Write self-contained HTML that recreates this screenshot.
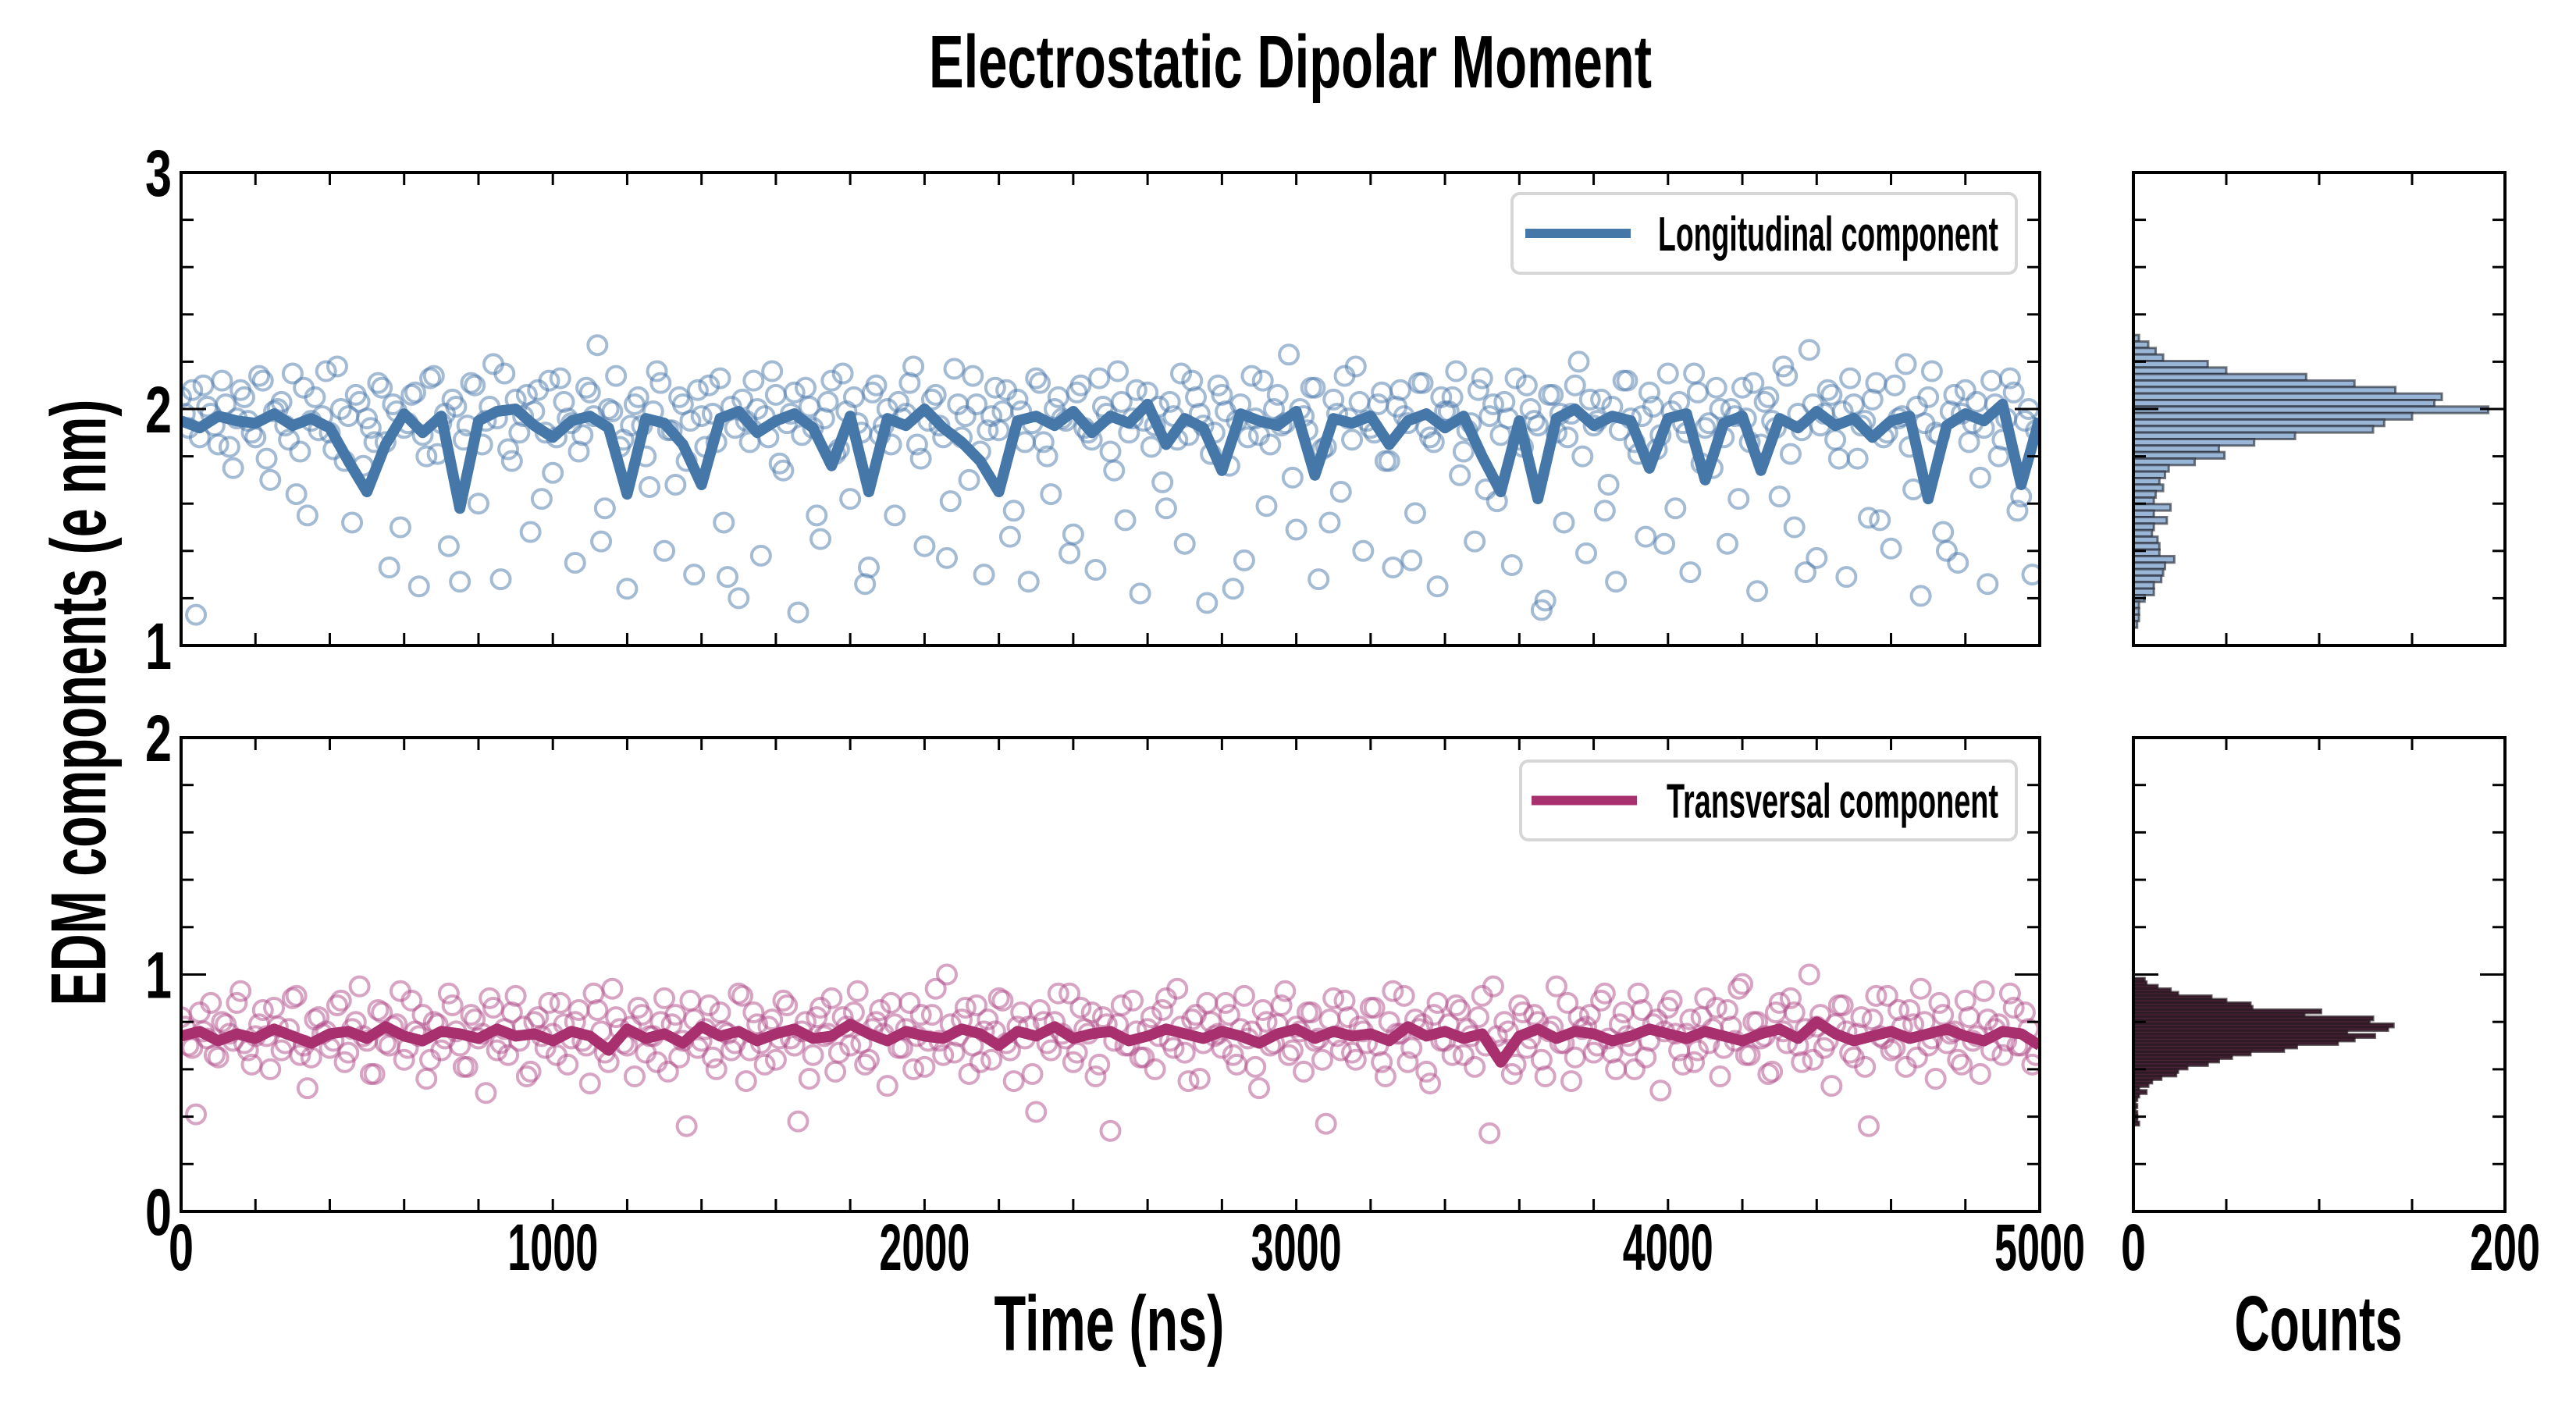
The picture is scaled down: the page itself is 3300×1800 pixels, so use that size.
<!DOCTYPE html>
<html><head><meta charset="utf-8"><style>
html,body{margin:0;padding:0;background:#fff;}
svg{display:block;}
text{font-family:"Liberation Sans Narrow","Liberation Sans",sans-serif;font-weight:bold;fill:#000;}
</style></head><body>
<svg id="chart" width="3300" height="1800" viewBox="0 0 3300 1800" xmlns="http://www.w3.org/2000/svg">
<defs>
<clipPath id="clipTop"><rect x="232" y="221" width="2381" height="606"/></clipPath>
<clipPath id="clipBot"><rect x="232" y="945" width="2381" height="607"/></clipPath>
</defs>
<text x="1653" y="112" text-anchor="middle" font-size="96" textLength="926" lengthAdjust="spacingAndGlyphs">Electrostatic Dipolar Moment</text>
<text transform="translate(135,900) rotate(-90)" text-anchor="middle" font-size="100" textLength="777" lengthAdjust="spacingAndGlyphs">EDM components (e nm)</text>
<text x="1421" y="1730" text-anchor="middle" font-size="100" textLength="295" lengthAdjust="spacingAndGlyphs">Time (ns)</text>
<text x="2970" y="1730" text-anchor="middle" font-size="100" textLength="215" lengthAdjust="spacingAndGlyphs">Counts</text>
<g id="layer"></g>
</svg>
<script>
// ---- data ----
const lineTimes = [];
const longLine = [1.95,1.92,1.97,1.95,1.94,1.98,1.93,1.96,1.92,1.78,1.65,1.85,1.98,1.90,1.97,1.58,1.95,1.99,2.00,1.93,1.88,1.95,1.97,1.92,1.64,1.96,1.94,1.85,1.68,1.96,1.99,1.90,1.95,1.98,1.92,1.76,1.97,1.65,1.96,1.93,2.00,1.92,1.86,1.78,1.65,1.95,1.97,1.93,1.99,1.90,1.97,1.94,2.02,1.85,1.96,1.92,1.74,1.98,1.95,1.93,1.99,1.72,1.96,1.94,1.97,1.85,1.95,1.98,1.92,1.97,1.80,1.65,1.95,1.62,1.96,2.00,1.93,1.97,1.95,1.75,1.96,1.98,1.70,1.94,1.97,1.74,1.96,1.92,1.99,1.93,1.96,1.88,1.95,1.97,1.62,1.93,1.98,1.95,2.02,1.68,1.96];
const transLine = [0.74,0.76,0.72,0.75,0.73,0.77,0.74,0.71,0.75,0.76,0.73,0.78,0.74,0.72,0.76,0.75,0.73,0.77,0.74,0.75,0.72,0.76,0.74,0.68,0.77,0.73,0.75,0.71,0.78,0.74,0.76,0.72,0.75,0.77,0.73,0.74,0.79,0.75,0.72,0.76,0.74,0.73,0.77,0.75,0.70,0.76,0.74,0.78,0.73,0.75,0.76,0.72,0.74,0.77,0.75,0.73,0.76,0.74,0.71,0.75,0.77,0.73,0.76,0.74,0.75,0.72,0.78,0.74,0.76,0.73,0.75,0.63,0.74,0.77,0.73,0.76,0.75,0.72,0.74,0.77,0.75,0.73,0.76,0.74,0.72,0.75,0.77,0.73,0.80,0.75,0.72,0.74,0.76,0.73,0.75,0.77,0.74,0.72,0.76,0.75,0.70];
for (let i = 0; i < longLine.length; i++) lineTimes.push(i * 50);
const longScatter = [2.05,1.92,1.13,2.10,1.98,1.85,2.02,1.75,2.08,1.95,1.88,2.12,1.70,2.00,1.93,2.15,1.82,1.55,2.05,1.97,1.90,2.18,1.78,1.52,2.03,1.96,1.86,2.09,1.33,1.99,1.92,2.06,1.25,1.80,2.14,1.94,1.42,2.01,1.87,2.11,1.60,1.95,2.19,1.28,1.83,2.04,1.97,1.48,2.08,1.90,1.73,2.13,1.96,1.35,1.89,2.07,2.27,1.58,1.99,1.84,1.24,2.02,1.93,1.67,2.16,1.40,1.91,2.05,1.78,1.30,1.97,2.10,1.86,1.52,2.01,1.20,1.95,2.12,1.38,1.88,2.06,1.74,1.98,1.14,2.09,1.92,1.45,2.03,1.81,2.15,1.62,1.94,1.26,2.07,1.89,2.00,1.55,1.96,2.11,1.85,1.42,2.04,1.93,1.37,2.17,1.88,1.70,2.02,1.30,1.97,1.91,2.08,1.57,1.99,1.27,2.13,1.86,1.64,2.05,1.95,1.47,2.10,1.90,1.32,2.01,1.82,2.16,1.53,1.96,1.22,2.07,1.93,1.69,2.03,1.87,1.43,2.12,1.98,1.18,1.90,2.06,1.76,1.95,1.36,2.14,1.89,1.59,2.00,1.93,2.23,1.49,1.97,2.09,1.28,1.84,2.04,1.65,1.96,2.18,1.40,1.92,2.02,1.78,1.33,2.08,1.94,1.56,2.11,1.88,1.25,1.99,2.05,1.72,1.91,1.44,2.13,1.97,1.61,2.03,1.34,1.87,2.10,1.95,1.15,2.06,1.90,1.52,1.98,2.20,1.39,1.93,2.04,1.68,1.27,2.12,1.96,1.81,1.46,2.01,1.89,2.15,1.58,1.94,1.31,2.07,1.92,1.75,2.00,1.43,1.97,2.09,1.86,1.23,2.03,1.95,1.63,2.14,1.50,1.91,2.25,1.37,1.98,2.06,1.79,1.29,2.02,1.93,1.54,2.11,1.88,1.41,1.96,2.19,1.66,1.21,2.05,1.90,1.48,1.99,1.35,2.08,1.94,1.71,1.26,2.02,1.87,2.13,1.57,1.95,1.30];
const longScatter2 = [1.98,2.08,1.88,2.01,1.93,2.12,1.84,1.96,2.05,1.90,2.14,1.79,1.99,2.03,1.87,1.64,2.09,1.95,1.91,2.16,1.83,2.00,1.97,2.06,1.76,1.92,2.11,1.86,2.02,1.50,1.94,2.07,1.89,2.13,1.81,1.98,2.04,1.27,1.93,2.10,1.85,2.01,1.96,2.15,1.78,1.90,2.06,1.99,1.62,2.12,1.88,2.03,1.94,1.82,2.09,1.97,1.44,2.00,2.14,1.87,1.93,2.05,1.80,1.99,2.11,1.91,1.68,2.02,1.95,2.08,1.84,1.98,2.13,1.29,1.92,2.04,1.86,2.00,1.97,2.16,1.77,1.94,2.07,1.89,2.01,1.55,1.96,2.12,1.83,1.99,2.05,1.90,1.33,2.10,1.93,1.85,2.03,1.98,2.18,1.79,1.95,2.06,1.88,1.61,2.02,1.97,2.14,1.82,1.91,2.09,1.99,1.46,2.04,1.86,1.94,2.11,1.80,2.00,1.96,1.39,2.07,1.92,1.87,2.13,1.98,1.74,2.03,1.90,2.08,1.95,1.84,2.01,1.58,1.97,2.15,1.89,2.05,1.93,1.81,2.10,1.99,1.24,2.02,1.88,1.96,2.12,1.85,2.06,1.94,1.71,2.00,1.91,2.09,1.83,1.52,1.98,2.14,1.87,2.03,1.95,1.90,2.07,1.78,2.01,1.97,1.36,2.11,1.92,1.86,2.05,1.99,2.16,1.82,1.94,2.08,1.66,2.02,1.89,1.96,2.13,1.84,2.00,1.93,1.19,2.06,1.98,1.88,2.10,1.80,2.04,1.95,1.57,2.01,1.91,2.12,1.86,1.97,2.07,1.83,1.43,1.99,2.03,1.90,2.15,1.77,1.94,2.09,1.88,2.00,1.62,1.96,2.11,1.85,2.05,1.92,2.18,1.81,1.98,1.31,2.02,1.93,2.08,1.87,1.99,2.13,1.79,1.95,2.04,1.53,1.90,2.10,1.97,1.84,2.01,1.94,2.16,1.89,1.40,2.06,1.98,1.86,2.03,1.92,2.12,1.80,1.96,2.07,1.63,2.00,1.91];
const transScatter = [0.82,0.70,0.41,0.76,0.88,0.65,0.79,0.72,0.93,0.68,0.74,0.85,0.60,0.78,0.71,0.90,0.66,0.52,0.81,0.75,0.69,0.87,0.63,0.77,0.95,0.72,0.58,0.84,0.70,0.79,0.64,0.89,0.74,0.56,0.80,0.68,0.92,0.76,0.61,0.83,0.73,0.50,0.86,0.71,0.66,0.91,0.78,0.59,0.82,0.69,0.75,0.88,0.62,0.80,0.72,0.54,0.85,0.67,0.94,0.77,0.70,0.57,0.83,0.74,0.63,0.90,0.79,0.65,0.36,0.81,0.72,0.87,0.60,0.76,0.68,0.92,0.55,0.84,0.71,0.78,0.64,0.89,0.73,0.38,0.80,0.66,0.86,0.75,0.59,0.82,0.70,0.93,0.62,0.77,0.85,0.53,0.79,0.69,0.88,0.74,0.61,0.83,0.72,1.00,0.67,0.81,0.58,0.87,0.76,0.64,0.90,0.71,0.55,0.84,0.78,0.42,0.80,0.68,0.92,0.73,0.63,0.86,0.75,0.57,0.82,0.34,0.79,0.70,0.89,0.65,0.77,0.60,0.85,0.72,0.94,0.67,0.81,0.56,0.88,0.74,0.69,0.83,0.62,0.91,0.76,0.52,0.80,0.71,0.87,0.66,0.78,0.59,0.84,0.73,0.37,0.90,0.68,0.82,0.64,0.76,0.86,0.70,0.57,0.93,0.75,0.63,0.81,0.79,0.54,0.88,0.72,0.66,0.85,0.77,0.61,0.91,0.33,0.74,0.80,0.58,0.87,0.69,0.83,0.64,0.76,0.95,0.71,0.55,0.82,0.78,0.67,0.89,0.73,0.60,0.84,0.70,0.92,0.65,0.79,0.51,0.86,0.75,0.62,0.81,0.68,0.90,0.77,0.57,0.85,0.72,0.96,0.66,0.80,0.74,0.59,0.88,0.71,0.84,0.63,1.00,0.78,0.69,0.53,0.87,0.76,0.65,0.82,0.36,0.91,0.73,0.68,0.85,0.61,0.79,0.94,0.70,0.56,0.83,0.75,0.64,0.89,0.72,0.58,0.81,0.77,0.66,0.92,0.70,0.84,0.62];
const transScatter2 = [0.78,0.69,0.84,0.73,0.66,0.80,0.75,0.88,0.71,0.62,0.79,0.74,0.86,0.68,0.77,0.91,0.70,0.65,0.82,0.76,0.72,0.89,0.67,0.80,0.74,0.58,0.85,0.71,0.78,0.93,0.69,0.76,0.83,0.64,0.79,0.73,0.87,0.70,0.61,0.81,0.75,0.90,0.68,0.77,0.84,0.72,0.57,0.80,0.74,0.88,0.66,0.79,0.73,0.85,0.70,0.92,0.76,0.63,0.82,0.71,0.78,0.86,0.67,0.74,0.80,0.59,0.83,0.72,0.89,0.69,0.77,0.65,0.84,0.75,0.71,0.91,0.68,0.79,0.62,0.81,0.73,0.87,0.70,0.76,0.56,0.82,0.74,0.90,0.67,0.78,0.84,0.71,0.64,0.80,0.75,0.88,0.69,0.77,0.60,0.83,0.72,0.94,0.66,0.79,0.74,0.86,0.70,0.63,0.81,0.76,0.89,0.68,0.78,0.73,0.58,0.85,0.71,0.80,0.75,0.92,0.67,0.77,0.84,0.62,0.79,0.72,0.87,0.70,0.76,0.65,0.82,0.74,0.90,0.69,0.78,0.55,0.83,0.71,0.80,0.75,0.88,0.66,0.77,0.73,0.61,0.85,0.70,0.79,0.93,0.68,0.76,0.84,0.72,0.64,0.81,0.74,0.89,0.67,0.78,0.71,0.86,0.63,0.80,0.75,0.91,0.69,0.77,0.59,0.83,0.72,0.79,0.87,0.66,0.74,0.82,0.70,0.95,0.68,0.76,0.62,0.84,0.73,0.80,0.57,0.78,0.71,0.88,0.65,0.77,0.83,0.70,0.92,0.67,0.79,0.74,0.60,0.85,0.72,0.81,0.76,0.89,0.68,0.75,0.63,0.82,0.71,0.86,0.69,0.78,0.94,0.66,0.80,0.73,0.58,0.84,0.76,0.90,0.70,0.77,0.64,0.83,0.72,0.79,0.87,0.67,0.75,0.61,0.81,0.74,0.91,0.69,0.78,0.85,0.65,0.80,0.73,0.88,0.71,0.76,0.62,0.82,0.74,0.93,0.68,0.79,0.72,0.86,0.70,0.77,0.66];
const scatterTimes = [];
const scatterTimes2 = [];
for (let i = 0; i < longScatter.length; i++) scatterTimes.push(i * 20);
for (let i = 0; i < longScatter2.length; i++) scatterTimes2.push(i * 20 + 10);
// histogram: bins listed from the top edge downward
const longHistTop = 2.313;
const longHistWidth = 0.0275;
const longHistCounts = [3,8,12,16,40,50,93,119,141,166,162,191,150,135,129,87,65,46,49,33,19,17,14,16,12,11,20,11,18,11,10,13,14,14,22,17,16,15,11,11,6,3,3,3,2];
const transHistTop = 0.985;
const transHistWidth = 0.0148;
const transHistCounts = [6,7,13,20,24,42,50,63,64,101,92,129,127,140,137,115,130,119,110,88,81,63,53,46,40,29,24,23,15,10,8,3,7,3,2,1,2,1,2,2,2,3];
const xTickLabels = ["0","1000","2000","3000","4000","5000"];
const topYLabels = ["1","2","3"];
const botYLabels = ["0","1","2"];
const histXLabels = ["0","200"];

// ---- axes ----
const X0=232, X1=2613, TY0=221, TY1=827, BY0=945, BY1=1552, H0=2733, H1=3209;
const xs = t => X0 + t/5000*(X1-X0);
const yTop = v => TY1 - (v-1)/2*(TY1-TY0);
const yBot = v => BY1 - v/2*(BY1-BY0);
const hx = c => H0 + c/200*(H1-H0);
const NS = "http://www.w3.org/2000/svg";
const layer = document.getElementById('layer');
function mk(tag, attrs, parent) {
  const e = document.createElementNS(NS, tag);
  for (const k in attrs) e.setAttribute(k, attrs[k]);
  (parent || layer).appendChild(e);
  return e;
}
function group(name) {
  const g = mk('g', {});
  
  
  return g;
}

function scatter(vals, times, yf, color, clip, name) {
  const g = group(name);
  g.setAttribute('clip-path', 'url(#' + clip + ')');
  for (let i = 0; i < vals.length; i++) {
    const c = mk('circle', {cx: xs(times[i]), cy: yf(vals[i]), r: 12, fill: 'none', stroke: color, 'stroke-width': 4, 'stroke-opacity': 0.5}, g);
    
    
  }
}
function line(vals, yf, color, clip, name) {
  let d = '';
  for (let i = 0; i < vals.length; i++) d += (i ? 'L' : 'M') + xs(lineTimes[i]).toFixed(1) + ' ' + yf(vals[i]).toFixed(1);
  const p = mk('path', {d: d, fill: 'none', stroke: color, 'stroke-width': 14, 'stroke-linejoin': 'round', 'clip-path': 'url(#' + clip + ')'});
  
  
}
function hist(counts, top, w, yf, fill, stroke, name) {
  const g = group(name);
  for (let i = 0; i < counts.length; i++) {
    const yTopEdge = yf(top - i*w), yLow = yf(top - (i+1)*w);
    const r = mk('rect', {x: H0, y: yTopEdge, width: hx(counts[i]) - H0, height: yLow - yTopEdge, fill: fill, stroke: stroke, 'stroke-width': 3}, g);
    
    
  }
}
function frame(x0, y0, x1, y1, name) {
  const r = mk('rect', {x: x0, y: y0, width: x1-x0, height: y1-y0, fill: 'none', stroke: '#000', 'stroke-width': 4});
  
  
}
function ticksX(xList, y0, y1, len, parent) {
  xList.forEach(x => {
    mk('line', {x1: x, x2: x, y1: y1, y2: y1 - len, stroke: '#000', 'stroke-width': 3}, parent);
    mk('line', {x1: x, x2: x, y1: y0, y2: y0 + len, stroke: '#000', 'stroke-width': 3}, parent);
  });
}
function ticksY(yList, x0, x1, lenList, parent) {
  yList.forEach((y, i) => {
    mk('line', {x1: x0, x2: x0 + lenList[i], y1: y, y2: y, stroke: '#000', 'stroke-width': 3}, parent);
    mk('line', {x1: x1, x2: x1 - lenList[i], y1: y, y2: y, stroke: '#000', 'stroke-width': 3}, parent);
  });
}
function label(txt, x, y, anchor, w, name) {
  const t = mk('text', {x: x, y: y, 'text-anchor': anchor, 'font-size': 84, textLength: w, lengthAdjust: 'spacingAndGlyphs'});
  t.textContent = txt;
  
  
}

// series
scatter(longScatter, scatterTimes, yTop, '#4a78aa', 'clipTop', 'longitudinal-scatter');
scatter(longScatter2, scatterTimes2, yTop, '#4a78aa', 'clipTop', 'longitudinal-scatter-2');
line(longLine, yTop, '#4677a9', 'clipTop', 'longitudinal-line');
scatter(transScatter, scatterTimes, yBot, '#b04a88', 'clipBot', 'transversal-scatter');
scatter(transScatter2, scatterTimes2, yBot, '#b04a88', 'clipBot', 'transversal-scatter-2');
line(transLine, yBot, '#a8306f', 'clipBot', 'transversal-line');
hist(longHistCounts, longHistTop, longHistWidth, yTop, '#9ab6d6', 'rgba(40,45,55,0.65)', 'longitudinal-histogram');
hist(transHistCounts, transHistTop, transHistWidth, yBot, '#4a2238', 'rgba(40,25,32,0.75)', 'transversal-histogram');

// ticks
const tg = group('axis-ticks');
const xt = []; for (let t = 200; t < 5000; t += 200) xt.push(xs(t));
ticksX(xt, TY0, TY1, 16, tg);
ticksX(xt, BY0, BY1, 16, tg);
const ytT = [], ytB = [], lens = [];
for (let k = 1; k < 10; k++) { ytT.push(yTop(1 + k*0.2)); ytB.push(yBot(k*0.2)); lens.push(k === 5 ? 32 : 16); }
ticksY(ytT, X0, X1, lens, tg);
ticksY(ytB, X0, X1, lens, tg);
ticksY(ytT, H0, H1, lens, tg);
ticksY(ytB, H0, H1, lens, tg);
const ht = [hx(50), hx(100), hx(150)];
ticksX(ht, TY0, TY1, 16, tg);
ticksX(ht, BY0, BY1, 16, tg);

frame(X0, TY0, X1, TY1, 'top-axes-frame');
frame(X0, BY0, X1, BY1, 'bottom-axes-frame');
frame(H0, TY0, H1, TY1, 'top-hist-frame');
frame(H0, BY0, H1, BY1, 'bottom-hist-frame');

// tick labels
xTickLabels.forEach((s, i) => label(s, xs(+s), 1627, 'middle', s.length === 1 ? 32 : 116, 'x-tick-label'));
topYLabels.forEach(s => label(s, 220, yTop(+s) + 30, 'end', 34, 'y-tick-label'));
botYLabels.forEach(s => label(s, 220, yBot(+s) + 30, 'end', 34, 'y-tick-label'));
histXLabels.forEach(s => label(s, hx(+s), 1627, 'middle', s.length === 1 ? 32 : 90, 'hist-x-tick-label'));

// legends
function legend(y0, y1, bx0, lx0, lx1, tx, txt, color, name) {
  const g = group(name);
  mk('rect', {x: bx0, y: y0, width: 2583 - bx0, height: y1 - y0, rx: 10, fill: '#fff', 'fill-opacity': 0.85, stroke: '#d6d6d6', 'stroke-width': 4}, g);
  const ly = (y0 + y1) / 2;
  mk('line', {x1: lx0, x2: lx1, y1: ly, y2: ly, stroke: color, 'stroke-width': 12}, g);
  const t = mk('text', {x: tx, y: ly + 22, 'font-size': 62, textLength: 2560 - tx, lengthAdjust: 'spacingAndGlyphs'}, g);
  t.textContent = txt;
  
  
}
legend(248, 350, 1937, 1954, 2089, 2124, 'Longitudinal component', '#4677a9', 'legend-longitudinal');
legend(975, 1076, 1948, 1962, 2097, 2135, 'Transversal component', '#a8306f', 'legend-transversal');
</script>
</body></html>
